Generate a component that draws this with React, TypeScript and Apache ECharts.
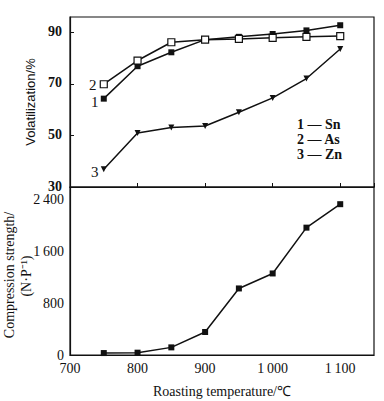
import React, { useEffect, useRef } from "react";
import * as echarts from "echarts";

const temps = [750, 800, 850, 900, 950, 1000, 1050, 1100];
const sn = [64.3, 76.9, 82.3, 87.2, 88.3, 89.4, 90.8, 92.8];
const as = [69.9, 79.1, 86.2, 87.2, 87.5, 87.9, 88.3, 88.6];
const zn = [36.9, 51.0, 53.1, 53.7, 59.0, 64.6, 72.1, 83.6];
const strength = [30, 36, 118, 356, 1030, 1262, 1971, 2334];
const legendLines = ["1 — Sn", "2 — As", "3 — Zn"];

const serif = "Liberation Serif";
const fmt = (v: number) => {
  const s = String(v);
  return s.length >= 4 ? s.slice(0, s.length - 3) + "\u2009" + s.slice(-3) : s;
};
const pairs = (ys: number[]) => temps.map((t, i) => [t, ys[i]]);

export default function App() {
  const ref = useRef<HTMLDivElement>(null);
  useEffect(() => {
    const chart = echarts.init(ref.current!, null, { renderer: "svg" });
    const axisLine = { show: true, lineStyle: { color: "#111", width: 1.2 } };
    const lbl = { color: "#111", fontFamily: serif, fontSize: 14 };
    chart.setOption({
      animation: false,
      backgroundColor: "#fff",
      grid: [
        { left: 70, top: 17, width: 304, height: 170, show: true, borderColor: "#111", borderWidth: 1.2, backgroundColor: "transparent", outerBoundsMode: "none", containLabel: false },
        { left: 70, top: 187, width: 304, height: 168, show: true, borderColor: "#111", borderWidth: 1.2, backgroundColor: "transparent", outerBoundsMode: "none", containLabel: false },
      ],
      xAxis: [
        { type: "value", gridIndex: 0, min: 700, max: 1150, interval: 100, axisLine, axisTick: { show: true, inside: true, length: 4, lineStyle: { color: "#111" } }, axisLabel: { show: false }, splitLine: { show: false } },
        {
          type: "value", gridIndex: 1, min: 700, max: 1150, interval: 100, axisLine,
          axisTick: { show: false }, splitLine: { show: false },
          axisLabel: { ...lbl, formatter: (v: number) => fmt(v), margin: 6, showMaxLabel: false },
          name: "Roasting temperature/℃", nameLocation: "middle", nameGap: 29,
          nameTextStyle: { color: "#111", fontFamily: serif, fontSize: 14 },
        },
      ],
      yAxis: [
        {
          type: "value", gridIndex: 0, min: 30, max: 96, interval: 20, axisLine,
          axisTick: { show: true, inside: true, length: 4, lineStyle: { color: "#111" } }, splitLine: { show: false },
          axisLabel: { ...lbl, fontWeight: "bold", margin: 8, showMaxLabel: false, verticalAlign: "bottom", lineHeight: 14, padding: [0, 0, -6, 0] },
          name: "Volatilization/%", nameLocation: "middle", nameGap: 24,
          nameTextStyle: { color: "#111", fontFamily: "Liberation Sans", fontSize: 13 },
        },
        {
          type: "value", gridIndex: 1, min: 0, max: 2600, interval: 800, axisLine,
          axisTick: { show: false }, splitLine: { show: false },
          axisLabel: { ...lbl, formatter: (v: number) => fmt(v), margin: 6, showMaxLabel: false },
        },
      ],
      series: [
        { type: "line", xAxisIndex: 0, yAxisIndex: 0, data: pairs(sn), symbol: "rect", symbolSize: 6, lineStyle: { color: "#111", width: 1.5 }, itemStyle: { color: "#111" } },
        { type: "line", xAxisIndex: 0, yAxisIndex: 0, data: pairs(as), symbol: "rect", symbolSize: 7, lineStyle: { color: "#111", width: 1.5 }, itemStyle: { color: "#fff", borderColor: "#111", borderWidth: 1.2 } },
        { type: "line", xAxisIndex: 0, yAxisIndex: 0, data: pairs(zn), symbol: "triangle", symbolRotate: 180, symbolSize: 6, lineStyle: { color: "#111", width: 1.5 }, itemStyle: { color: "#111" } },
        { type: "line", xAxisIndex: 1, yAxisIndex: 1, data: pairs(strength), symbol: "rect", symbolSize: 6, lineStyle: { color: "#111", width: 1.5 }, itemStyle: { color: "#111" } },
      ],
      graphic: [
        { type: "text", left: 89, top: 77, style: { text: "2", font: `15px ${serif}`, fill: "#111" } },
        { type: "text", left: 91, top: 94, style: { text: "1", font: `15px ${serif}`, fill: "#111" } },
        { type: "text", left: 91, top: 164, style: { text: "3", font: `15px ${serif}`, fill: "#111" } },
        ...legendLines.map((t, i) => ({
          type: "text", left: 297, top: 117 + i * 15,
          style: { text: t, font: `bold 14px ${serif}`, fill: "#111" },
        })),
        {
          type: "text", x: 9, y: 275, rotation: Math.PI / 2,
          style: { text: "Compression strength/", font: `14px ${serif}`, fill: "#111", align: "center", verticalAlign: "middle" },
        },
        {
          type: "text", x: 26, y: 276, rotation: Math.PI / 2,
          style: { text: "(N·P⁻¹)", font: `14px ${serif}`, fill: "#111", align: "center", verticalAlign: "middle" },
        },
      ],
    });
    return () => chart.dispose();
  }, []);
  return <div ref={ref} style={{ position: "fixed", left: 0, top: 0, width: 384, height: 401 }} />;
}
